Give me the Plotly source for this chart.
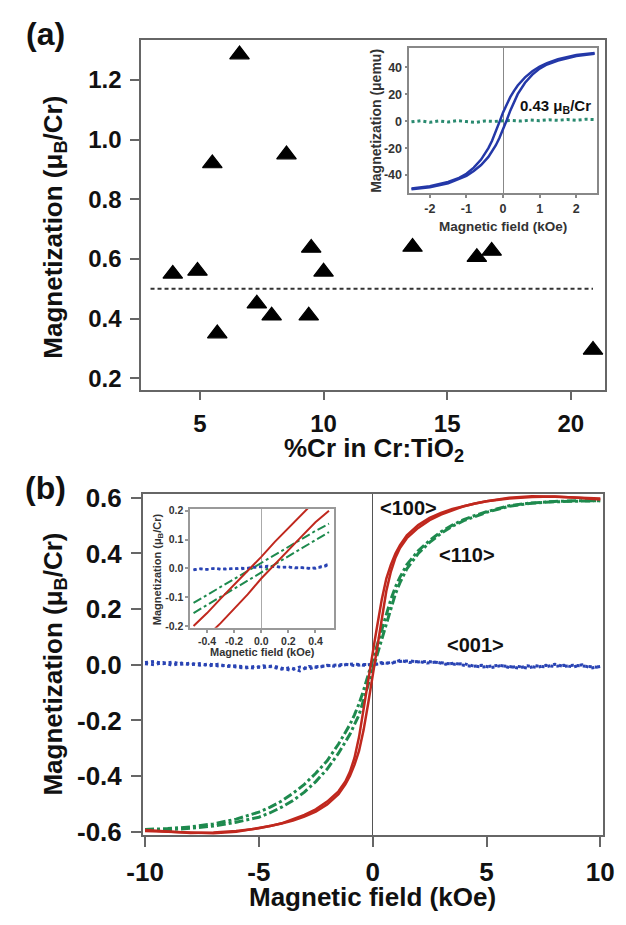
import plotly.graph_objects as go

# ---------------- Panel (a): magnetization per Cr vs %Cr ----------------
cr_pct = [3.9, 4.9, 5.5, 5.7, 6.6, 7.3, 7.9, 8.5, 9.4, 9.5, 10.0, 13.6, 16.2, 16.8, 20.9]
m_per_cr = [0.55, 0.56, 0.92, 0.35, 1.285, 0.45, 0.41, 0.95, 0.41, 0.637, 0.557, 0.64, 0.606, 0.627, 0.295]
ref_x = [3.0, 20.9]
ref_m = [0.5, 0.5]
a_xticks = [5, 10, 15, 20]
a_yticks = [0.2, 0.4, 0.6, 0.8, 1.0, 1.2]
a_yticktext = ["0.2", "0.4", "0.6", "0.8", "1.0", "1.2"]

# Inset (a): hysteresis loop in micro-emu
ia_h = [-2.5, -2, -1.5, -1.2, -1, -0.8, -0.6, -0.4, -0.3, -0.2, -0.1, 0, 0.1, 0.2, 0.3, 0.4, 0.6, 0.8, 1, 1.2, 1.5, 2, 2.5]
ia_dn = [-50, -48.3, -45, -42, -39, -34.5, -28.5, -20, -14.5, -8, -0.7, 6.5, 12.5, 18, 22.5, 26.5, 32.5, 37, 40.5, 43, 46, 49, 50.5]
ia_up = [-50.5, -49, -46, -43, -40.5, -37, -32.5, -26.5, -22.5, -18, -12.5, -6.5, 0.7, 8, 14.5, 20, 28.5, 34.5, 39, 42, 45, 48.3, 50]
ia_bg_h = [-2.5, -2.25, -2.0, -1.75, -1.5, -1.25, -1.0, -0.75, -0.5, -0.25, 0.0, 0.25, 0.5, 0.75, 1.0, 1.25, 1.5, 1.75, 2.0, 2.25, 2.5]
ia_bg_m = [-0.5, 0.3, -0.8, 0.2, -0.6, 0.4, -0.3, -0.9, 0.1, -0.2, 0.3, 0.5, 0.1, 0.8, 0.4, 1.0, 0.6, 1.2, 0.7, 1.4, 1.2]
ia_xticks = [-2, -1, 0, 1, 2]
ia_xticktext = ["-2", "-1", "0", "1", "2"]
ia_yticks = [-40, -20, 0, 20, 40]
ia_yticktext = ["-40", "-20", "0", "20", "40"]

# ---------------- Panel (b): M(H) along three directions ----------------
pb_h = [-10, -9, -8, -7, -6, -5, -4.5, -4, -3.5, -3, -2.5, -2, -1.5, -1.2, -1, -0.8, -0.6, -0.4, -0.2, -0.1,
        0, 0.1, 0.2, 0.4, 0.6, 0.8, 1, 1.2, 1.5, 2, 2.5, 3, 3.5, 4, 4.5, 5, 6, 7, 8, 9, 10]
red_dn = [-0.598, -0.600, -0.604, -0.606, -0.600, -0.588, -0.580, -0.570, -0.556, -0.540, -0.520, -0.492, -0.455,
          -0.420, -0.385, -0.335, -0.260, -0.155, -0.057, -0.008, 0.040, 0.092, 0.140, 0.235, 0.310, 0.360, 0.400,
          0.430, 0.465, 0.502, 0.528, 0.546, 0.560, 0.571, 0.580, 0.588, 0.598, 0.603, 0.605, 0.600, 0.594]
red_up = [-0.594, -0.600, -0.605, -0.603, -0.598, -0.588, -0.580, -0.571, -0.560, -0.546, -0.528, -0.502, -0.465,
          -0.430, -0.400, -0.360, -0.310, -0.235, -0.140, -0.090, -0.035, 0.015, 0.065, 0.160, 0.265, 0.335, 0.385,
          0.420, 0.455, 0.492, 0.520, 0.540, 0.556, 0.570, 0.580, 0.588, 0.600, 0.606, 0.604, 0.600, 0.598]
grn_dn = [-0.592, -0.589, -0.583, -0.572, -0.555, -0.530, -0.512, -0.490, -0.462, -0.430, -0.390, -0.345, -0.285,
          -0.245, -0.215, -0.180, -0.140, -0.092, -0.036, -0.008, 0.020, 0.048, 0.076, 0.130, 0.180, 0.235, 0.280,
          0.315, 0.360, 0.410, 0.447, 0.478, 0.502, 0.522, 0.537, 0.550, 0.572, 0.582, 0.587, 0.590, 0.590]
grn_up = [-0.595, -0.593, -0.588, -0.580, -0.566, -0.548, -0.532, -0.512, -0.488, -0.458, -0.420, -0.375, -0.318,
          -0.280, -0.250, -0.215, -0.180, -0.127, -0.072, -0.045, -0.017, 0.012, 0.040, 0.098, 0.150, 0.205, 0.255,
          0.295, 0.345, 0.400, 0.440, 0.472, 0.498, 0.518, 0.534, 0.548, 0.570, 0.581, 0.586, 0.589, 0.590]
blu_h = [-10, -9.6, -9.2, -8.8, -8.4, -8, -7.6, -7.2, -6.8, -6.4, -6, -5.6, -5.2, -4.8, -4.4, -4, -3.6, -3.2,
         -2.8, -2.4, -2, -1.6, -1.2, -0.8, -0.4, 0, 0.4, 0.8, 1.2, 1.6, 2, 2.4, 2.8, 3.2, 3.6, 4, 4.4, 4.8, 5.2,
         5.6, 6, 6.4, 6.8, 7.2, 7.6, 8, 8.4, 8.8, 9.2, 9.6, 10]
blu_a = [0.008, 0.012, 0.004, 0.010, 0.002, 0.006, -0.002, 0.003, -0.004, -0.002,
         -0.008, -0.012, -0.006, -0.010, -0.004, -0.012, -0.020, -0.008, -0.014, -0.006,
         -0.004, -0.002, 0.002, -0.003, 0.001, 0.000, 0.004, 0.010, 0.012, 0.014,
         0.010, 0.012, 0.008, 0.006, 0.002, 0.004, -0.004, -0.008, -0.006, -0.002,
         -0.010, -0.006, -0.012, -0.004, -0.008, 0.002, -0.006, -0.002, -0.004, -0.008, -0.010]
blu_b = [0.004, 0.000, 0.008, -0.002, 0.006, 0.000, 0.004, -0.004, 0.002, -0.006,
         -0.004, -0.008, -0.012, -0.004, -0.008, -0.016, -0.010, -0.022, -0.006, -0.010,
         -0.002, -0.006, 0.000, 0.003, -0.002, 0.002, 0.008, 0.004, 0.016, 0.008,
         0.012, 0.006, 0.010, 0.002, 0.006, -0.002, -0.006, -0.002, -0.010, -0.004,
         -0.006, -0.012, -0.004, -0.010, -0.002, -0.006, -0.002, -0.008, 0.000, -0.012, -0.006]
b_xticks = [-10, -5, 0, 5, 10]
b_xticktext = ["-10", "-5", "0", "5", "10"]
b_yticks = [-0.6, -0.4, -0.2, 0.0, 0.2, 0.4, 0.6]
b_yticktext = ["-0.6", "-0.4", "-0.2", "0.0", "0.2", "0.4", "0.6"]

# Inset (b): low-field zoom
ib_h = [-0.5, -0.4, -0.3, -0.2, -0.1, 0, 0.1, 0.2, 0.3, 0.4, 0.5]
ib_red_dn = [-0.200, -0.155, -0.105, -0.057, -0.008, 0.040, 0.092, 0.140, 0.190, 0.235, 0.275]
ib_red_up = [-0.275, -0.235, -0.190, -0.140, -0.090, -0.035, 0.015, 0.065, 0.112, 0.160, 0.200]
ib_grn_dn = [-0.120, -0.092, -0.064, -0.036, -0.008, 0.020, 0.048, 0.076, 0.103, 0.130, 0.155]
ib_grn_up = [-0.155, -0.127, -0.100, -0.072, -0.045, -0.017, 0.012, 0.040, 0.070, 0.098, 0.126]
ib_blu_h = [-0.5, -0.45, -0.4, -0.35, -0.3, -0.25, -0.2, -0.15, -0.1, -0.05, 0.0, 0.05, 0.1, 0.15, 0.2, 0.25,
            0.3, 0.35, 0.4, 0.45, 0.5]
ib_blu_a = [-0.004, -0.002, -0.003, -0.001, -0.002, -0.003, 0.000, -0.002, 0.001, 0.003, 0.004, 0.008, 0.006,
            0.005, 0.004, 0.002, 0.001, -0.001, 0.000, 0.008, 0.015]
ib_blu_b = [-0.006, -0.001, -0.004, 0.000, -0.003, -0.001, -0.002, 0.001, 0.000, 0.005, 0.006, 0.004, 0.007,
            0.003, 0.006, 0.001, 0.003, 0.000, 0.002, 0.004, 0.012]
ib_xticks = [-0.4, -0.2, 0.0, 0.2, 0.4]
ib_xticktext = ["-0.4", "-0.2", "0.0", "0.2", "0.4"]
ib_yticks = [-0.2, -0.1, 0.0, 0.1, 0.2]
ib_yticktext = ["-0.2", "-0.1", "0.0", "0.1", "0.2"]

RED = "#c0281e"
GREEN = "#1e8a4e"
BLUE = "#2438a8"
BLUE2 = "#2a44b4"
TEAL = "#2a8a70"
FONT = "Liberation Sans, Arial, sans-serif"
W, H = 626, 925


def px(x):
    return x / W


def py(y):
    return 1 - y / H


fig = go.Figure()

# panel a main
fig.add_trace(go.Scatter(x=ref_x, y=ref_m, mode="lines", xaxis="x", yaxis="y",
                         line=dict(color="#333333", width=2, dash="4px,3px"), showlegend=False))
fig.add_trace(go.Scatter(x=cr_pct, y=m_per_cr, mode="markers", xaxis="x", yaxis="y",
                         marker=dict(symbol="triangle-up", size=17, color="black",
                                     line=dict(color="black", width=1.2)), showlegend=False))
# inset a
fig.add_trace(go.Scatter(x=ia_bg_h, y=ia_bg_m, mode="lines", xaxis="x2", yaxis="y2",
                         line=dict(color=TEAL, width=3, dash="dot"), showlegend=False))
fig.add_trace(go.Scatter(x=ia_h, y=ia_dn, mode="lines", xaxis="x2", yaxis="y2",
                         line=dict(color=BLUE, width=2.5), showlegend=False))
fig.add_trace(go.Scatter(x=ia_h, y=ia_up, mode="lines", xaxis="x2", yaxis="y2",
                         line=dict(color=BLUE, width=2.5), showlegend=False))

# panel b main
fig.add_trace(go.Scatter(x=blu_h, y=blu_a, mode="lines", xaxis="x3", yaxis="y3",
                         line=dict(color=BLUE2, width=3, dash="dot"), showlegend=False))
fig.add_trace(go.Scatter(x=blu_h, y=blu_b, mode="lines", xaxis="x3", yaxis="y3",
                         line=dict(color=BLUE2, width=3, dash="dot"), showlegend=False))
fig.add_trace(go.Scatter(x=pb_h, y=grn_dn, mode="lines", xaxis="x3", yaxis="y3",
                         line=dict(color=GREEN, width=3, dash="dashdot"), showlegend=False))
fig.add_trace(go.Scatter(x=pb_h, y=grn_up, mode="lines", xaxis="x3", yaxis="y3",
                         line=dict(color=GREEN, width=3, dash="dashdot"), showlegend=False))
fig.add_trace(go.Scatter(x=pb_h, y=red_dn, mode="lines", xaxis="x3", yaxis="y3",
                         line=dict(color=RED, width=2.5), showlegend=False))
fig.add_trace(go.Scatter(x=pb_h, y=red_up, mode="lines", xaxis="x3", yaxis="y3",
                         line=dict(color=RED, width=2.5), showlegend=False))

# inset b
fig.add_trace(go.Scatter(x=ib_blu_h, y=ib_blu_a, mode="lines", xaxis="x4", yaxis="y4",
                         line=dict(color=BLUE2, width=2.5, dash="dot"), showlegend=False))
fig.add_trace(go.Scatter(x=ib_blu_h, y=ib_blu_b, mode="lines", xaxis="x4", yaxis="y4",
                         line=dict(color=BLUE2, width=2.5, dash="dot"), showlegend=False))
fig.add_trace(go.Scatter(x=ib_h, y=ib_grn_dn, mode="lines", xaxis="x4", yaxis="y4",
                         line=dict(color=GREEN, width=2, dash="dashdot"), showlegend=False))
fig.add_trace(go.Scatter(x=ib_h, y=ib_grn_up, mode="lines", xaxis="x4", yaxis="y4",
                         line=dict(color=GREEN, width=2, dash="dashdot"), showlegend=False))
fig.add_trace(go.Scatter(x=ib_h, y=ib_red_dn, mode="lines", xaxis="x4", yaxis="y4",
                         line=dict(color=RED, width=2), showlegend=False))
fig.add_trace(go.Scatter(x=ib_h, y=ib_red_up, mode="lines", xaxis="x4", yaxis="y4",
                         line=dict(color=RED, width=2), showlegend=False))


def ax(domain, rng, tickvals, ticktext=None, size=23, ticklen=8, anchor=None, color="#111111",
       linecolor="#666666", zeroline=False, zerocolor="#555555", standoff=None):
    d = dict(domain=domain, range=rng, tickvals=tickvals, showgrid=False,
             showline=True, linecolor=linecolor, linewidth=1.5, mirror=True,
             ticks="outside", ticklen=ticklen, tickwidth=1.5, tickcolor=linecolor,
             tickfont=dict(family=FONT, size=size, color=color, weight="bold"),
             zeroline=zeroline, zerolinecolor=zerocolor, zerolinewidth=1, anchor=anchor,
             ticklabeloverflow="allow")
    if ticktext is not None:
        d["ticktext"] = ticktext
    if standoff is not None:
        d["ticklabelstandoff"] = standoff
    return d


layout = dict(
    width=W, height=H, autosize=False, margin=dict(l=0, r=0, t=0, b=0),
    paper_bgcolor="white", plot_bgcolor="white", showlegend=False,
    xaxis=ax([px(131), px(616.7)], [2.62, 21.39], a_xticks, size=24, ticklen=9, anchor="y", standoff=3),
    yaxis=ax([py(388.3), py(30)], [0.162, 1.333], a_yticks, a_yticktext, size=24, ticklen=9,
             anchor="x", standoff=4),
    xaxis2=ax([px(411.7), px(608)], [-2.56, 2.56], ia_xticks, ia_xticktext, size=12.5, ticklen=3,
              anchor="y2", color="#333333", linecolor="#888888", zeroline=True, zerocolor="#888888"),
    yaxis2=ax([py(186.7), py(38.3)], [-53.3, 54], ia_yticks, ia_yticktext, size=12.5, ticklen=3,
              anchor="x2", color="#333333", linecolor="#888888"),
    xaxis3=ax([px(132.7), px(614.3)], [-10.1, 10.11], b_xticks, b_xticktext, size=26, ticklen=10,
              anchor="y3", zeroline=True, zerocolor="#555555", standoff=3),
    yaxis3=ax([py(845), py(495)], [-0.612, 0.615], b_yticks, b_yticktext, size=26, ticklen=10,
              anchor="x3", standoff=4),
    xaxis4=ax([px(182.3), px(333.3)], [-0.525, 0.54], ib_xticks, ib_xticktext, size=10.5, ticklen=3,
              anchor="y4", color="#333333", linecolor="#999999", zeroline=True, zerocolor="#aaaaaa"),
    yaxis4=ax([py(632.5), py(510.7)], [-0.206, 0.206], ib_yticks, ib_yticktext, size=10.5, ticklen=3,
              anchor="x4", color="#333333", linecolor="#999999"),
)
fig.update_layout(**layout)


def note(text, x, y, size, angle=0, color="#111111"):
    fig.add_annotation(text=text, x=px(x), y=py(y), xref="paper", yref="paper", showarrow=False,
                       textangle=angle, xanchor="center", yanchor="middle",
                       font=dict(family=FONT, size=size, color=color, weight="bold"))


note("(a)", 31, 24, 32)
note("(b)", 31, 489, 32)
note("Magnetization (μ<sub>B</sub>/Cr)", 40, 222, 26, angle=-90)
note("%Cr in Cr:TiO<sub>2</sub>", 375, 450, 26)
note("Magnetization (μ<sub>B</sub>/Cr)", 40, 670, 26, angle=-90)
note("Magnetic field (kOe)", 373, 909, 26)
note("Magnetization (μemu)", 377, 112.5, 14, angle=-90, color="#333333")
note("Magnetic field (kOe)", 510, 221, 13.5, color="#333333")
note("0.43 μ<sub>B</sub>/Cr", 565, 98, 15)
note("Magnetization (μ<sub>B</sub>/Cr)", 148, 572, 11, angle=-90, color="#333333")
note("Magnetic field (kOe)", 258, 657, 11, color="#333333")
note("&lt;100&gt;", 411, 510, 20)
note("&lt;110&gt;", 472, 558, 20)
note("&lt;001&gt;", 481, 650, 20)

fig.write_html("out.html")
